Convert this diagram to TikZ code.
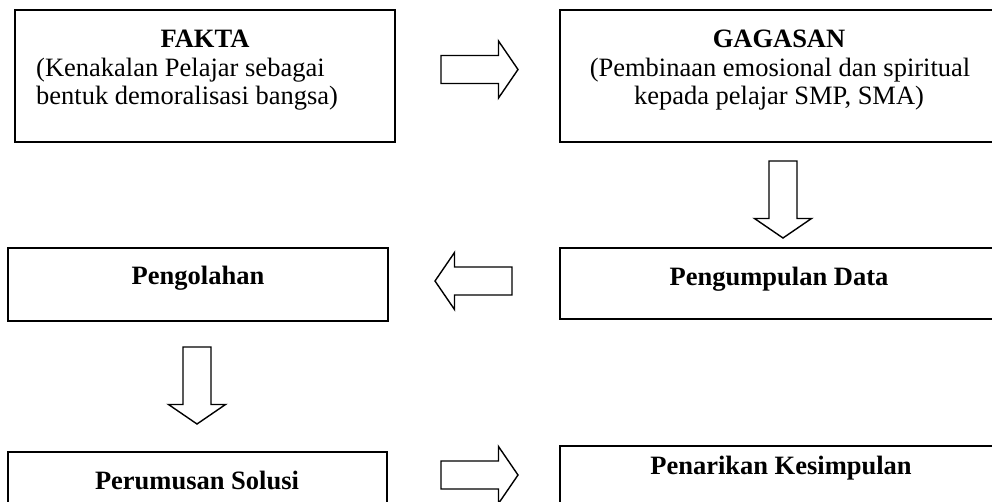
\documentclass[tikz,border=0pt]{standalone}
\usepackage{fontspec}
\setmainfont{Liberation Serif}
\begin{document}
\begin{tikzpicture}[x=1pt,y=-1pt,
  box/.style={draw=black, line width=1.8pt, fill=none, rectangle, inner sep=0pt},
  arrowline/.style={draw=black, line width=1.4pt, line join=miter, fill=white},
  txt/.style={inner sep=0pt, font=\fontsize{26.5}{30}\selectfont, anchor=base},
  btxt/.style={txt, font=\fontsize{26.5}{30}\selectfont\bfseries},
  blockarrow/.pic={\draw[arrowline] (0,-14) -- (57.5,-14) -- (57.5,-28.5) -- (77,0) -- (57.5,28.5) -- (57.5,14) -- (0,14) -- cycle;}
]
\clip (0,0) rectangle (992,501);
\fill[white] (0,0) rectangle (992,501);

% boxes
\node[box, minimum width=380pt, minimum height=132pt] (fakta) at (205,76) {};
\node[box, minimum width=438pt, minimum height=132pt] (gagasan) at (779,76) {};
\node[box, minimum width=380pt, minimum height=73pt] (pengolahan) at (198,284.5) {};
\node[box, minimum width=438pt, minimum height=71pt] (pengumpulan) at (779,283.5) {};
\node[box, minimum width=379pt, minimum height=80pt] (perumusan) at (197.5,492) {};
\node[box, minimum width=438pt, minimum height=80pt] (penarikan) at (779,486) {};

% texts
\node[btxt] (faktaT) at (205,47) {FAKTA};
\node[txt, anchor=base west] (faktaA) at (36,76) {(Kenakalan Pelajar sebagai};
\node[txt, anchor=base west] (faktaB) at (36,104) {bentuk demoralisasi bangsa)};
\node[btxt] (gagasanT) at (779,47) {GAGASAN};
\node[txt] (gagasanA) at (780,76) {(Pembinaan emosional dan spiritual};
\node[txt] (gagasanB) at (779,104) {kepada pelajar SMP, SMA)};
\node[btxt] (pengolahanT) at (198,284) {Pengolahan};
\node[btxt] (pengumpulanT) at (779,285) {Pengumpulan Data};
\node[btxt] (perumusanT) at (197,489) {Perumusan Solusi};
\node[btxt] (penarikanT) at (781,474) {Penarikan Kesimpulan};

% block arrows
\coordinate (a1) at (441,69.5);
\coordinate (a2) at (783,161);
\coordinate (a3) at (512,281);
\coordinate (a4) at (197,347);
\coordinate (a5) at (441,475);
\pic at (a1) {blockarrow};
\pic[rotate=-90] at (a2) {blockarrow};
\pic[rotate=180] at (a3) {blockarrow};
\pic[rotate=-90] at (a4) {blockarrow};
\pic at (a5) {blockarrow};
\end{tikzpicture}
\end{document}
